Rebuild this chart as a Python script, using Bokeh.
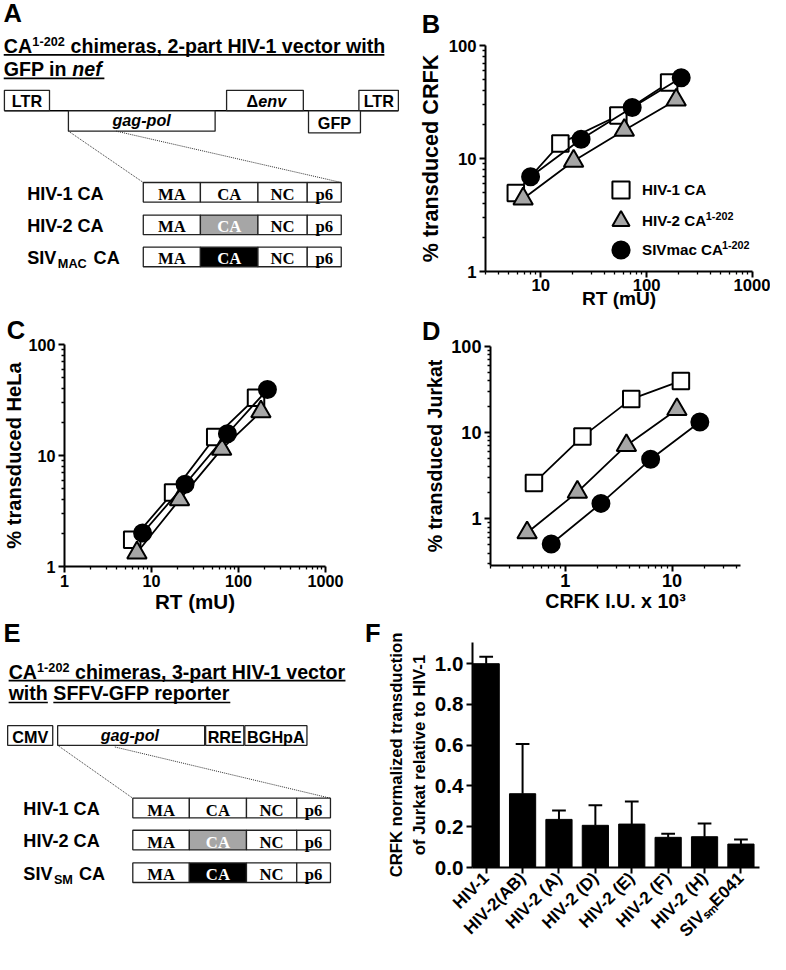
import numpy as np
from bokeh.plotting import figure
from bokeh.models import (Range1d, FixedTicker, PrintfTickFormatter, Legend, LegendItem,
                          Whisker, TeeHead, ColumnDataSource, Label, Title)
from bokeh.layouts import column, row
from bokeh.embed import file_html
from bokeh.resources import INLINE
from bokeh.core.properties import value

# ---------------------------------------------------------------- data
b_hiv1_rt = [5.8, 15.3, 54, 163]
b_hiv1_pct = [4.95, 13.6, 24, 47]
b_hiv2_rt = [6.8, 20.4, 61.5, 190]
b_hiv2_pct = [4.4, 9.5, 17.8, 33]
b_siv_rt = [8.0, 24, 73, 212]
b_siv_pct = [6.9, 14.8, 28.3, 51.8]
c_hiv1_rt = [6.0, 17.7, 54, 159]
c_hiv1_pct = [1.74, 4.65, 14.7, 33.2]
c_hiv2_rt = [6.8, 21, 64, 181]
c_hiv2_pct = [1.33, 4.0, 11.4, 24.8]
c_siv_rt = [7.9, 24.3, 74.6, 215]
c_siv_pct = [2.0, 5.5, 15.7, 39.3]
d_hiv1_iu = [0.51, 1.45, 4.15, 12.1]
d_hiv1_pct = [2.6, 9.0, 24.5, 39.8]
d_hiv2_iu = [0.44, 1.3, 3.74, 11.1]
d_hiv2_pct = [0.69, 2.04, 7.1, 18.6]
d_siv_iu = [0.74, 2.16, 6.3, 18.2]
d_siv_pct = [0.51, 1.51, 4.9, 13.3]
f_categories = ["HIV-1", "HIV-2(AB)", "HIV-2 (A)", "HIV-2 (D)", "HIV-2 (E)",
                "HIV-2 (F)", "HIV-2 (H)", "SIV\u209b\u2098E041"]
f_means = [1.0, 0.362, 0.236, 0.207, 0.213, 0.148, 0.151, 0.115]
f_sd = [0.034, 0.244, 0.044, 0.098, 0.111, 0.017, 0.065, 0.022]
series_names = ["HIV-1 CA", "HIV-2 CA", "SIVmac CA"]
series_sup = ["", "1-202", "1-202"]

# ---------------------------------------------------------------- layout
S = 0.98
SANS = "Liberation Sans"
SERIF = "Liberation Serif"

H1, H2, H3 = 312, 305, 333
WA, WB = 402, 368
WC, WD = 392, 378
WE, WF = 382, 388
Y1 = 0.0
Y2 = H1 / S
Y3 = (H1 + H2) / S


def fs(v):
    return f"{v * S:.1f}px"


def diagram(x0, y0, W, H):
    p = figure(width=W, height=H, output_backend="svg", toolbar_location=None,
               x_range=Range1d(x0, x0 + W / S), y_range=Range1d(-(y0 + H / S), -y0),
               min_border=0, outline_line_color=None, x_axis_type=None, y_axis_type=None)
    p.min_border_left = p.min_border_right = p.min_border_top = p.min_border_bottom = 0
    p.background_fill_color = "white"
    p.border_fill_color = "white"
    return p


def txt(p, x, y, s, size, style="bold", font=SANS, align="left", color="black"):
    # y is the reference baseline; the text is placed by its vertical middle
    ym = y - 0.35 * size
    p.text(x=[x], y=[-ym], text=[s], text_font=value(font), text_font_size=fs(size),
           text_font_style=style, text_align=align, text_baseline="middle", text_color=color)


def box(p, l, r, t, b, fill="white", line="#222222", lw=1.3):
    p.quad(left=[l], right=[r], top=[-t], bottom=[-b], fill_color=fill, line_color=line, line_width=lw)


def seg(p, x0, y0, x1, y1, lw=1.6, color="black", dash="solid"):
    p.segment(x0=[x0], y0=[-y0], x1=[x1], y1=[-y1], line_color=color, line_width=lw, line_dash=dash)


def uline(p, x0, x1, y):
    seg(p, x0, y, x1, y, lw=1.6)


def dotted(p, x0, y0, x1, y1):
    seg(p, x0, y0, x1, y1, lw=1, color="#333333", dash="1 1")


def gag_row(p, xs, yt, yb, ca_fill, ca_text):
    labels = ["MA", "CA", "NC", "p6"]
    fills = ["white", ca_fill, "white", "white"]
    colors = ["black", ca_text, "black", "black"]
    for i in range(4):
        box(p, xs[i], xs[i + 1], yt, yb, fill=fills[i])
        txt(p, (xs[i] + xs[i + 1]) / 2, yb - 2, labels[i], 17, font=SERIF, align="center",
            color=colors[i])


# ---------------------------------------------------------------- panel A
pA = diagram(0, Y1, WA, H1)
txt(pA, 3, 21.7, "A", 26)
txt(pA, 3.3, 53, "CA", 20)
txt(pA, 32.5, 46, "1-202", 13)
txt(pA, 71.5, 53, "chimeras, 2-part HIV-1 vector with", 20)
uline(pA, 3.3, 391.7, 55.5)
txt(pA, 3.3, 77, "GFP in ", 20)
txt(pA, 73.3, 77, "nef", 20, style="bold italic")
uline(pA, 3.3, 106, 79.5)
seg(pA, 4, 112.5, 406, 112.5)
box(pA, 4, 50, 91.7, 112.3)
txt(pA, 27, 108.3, "LTR", 16.5, align="center")
box(pA, 230.7, 309, 91.7, 112.3)
txt(pA, 263, 108.3, "\u0394", 16.5, align="right")
txt(pA, 263, 108.3, "env", 16.5, style="bold italic")
box(pA, 365.7, 406, 91.7, 112.3)
txt(pA, 386, 108.3, "LTR", 16.5, align="center")
box(pA, 69.3, 219, 112.7, 133.3)
txt(pA, 144, 127.5, "gag-pol", 16.5, style="bold italic", align="center")
box(pA, 314.3, 367.3, 112.7, 135)
txt(pA, 340.8, 131, "GFP", 16.5, align="center")
dotted(pA, 69.3, 133.3, 145.7, 185.7)
dotted(pA, 118, 133.3, 347.7, 185.7)
xsA = [145.7, 204, 262.7, 313, 347.7]
gag_row(pA, xsA, 185.7, 205.7, "white", "black")
gag_row(pA, xsA, 219, 239, "#a6a6a6", "white")
gag_row(pA, xsA, 251.7, 271.7, "black", "white")
txt(pA, 27.3, 204, "HIV-1 CA", 18.5)
txt(pA, 27.3, 236.7, "HIV-2 CA", 18.5)
txt(pA, 27.3, 269.3, "SIV", 18.5)
txt(pA, 58.5, 273.5, "MAC", 13)
txt(pA, 95, 269.3, "CA", 18.5)


# ---------------------------------------------------------------- plot helpers
def make_plot(ox, oy, W, H, frame, xr, yr, xlog, ylog):
    fx0, fy0, fx1, fy1 = frame
    left = round((fx0 - ox) * S)
    top = round((fy0 - oy) * S)
    fw = round((fx1 - fx0) * S)
    fh = round((fy1 - fy0) * S)
    right = W - left - fw
    bottom = H - top - fh
    p = figure(width=W, height=H, output_backend="svg", toolbar_location=None,
               x_axis_type="log" if xlog else "linear", y_axis_type="log" if ylog else "linear",
               x_range=Range1d(*xr), y_range=Range1d(*yr),
               min_border_left=left, min_border_right=right, min_border_top=top,
               min_border_bottom=bottom, outline_line_color=None)
    p.grid.visible = False
    p.background_fill_color = "white"
    p.border_fill_color = "white"
    return p, (frame, xr, yr, xlog, ylog)


def style_axis(ax, tick_font, label_font, tick_standoff, label_standoff):
    ax.axis_line_width = 2
    ax.axis_line_color = "black"
    ax.major_tick_line_width = 2
    ax.major_tick_line_color = "black"
    ax.major_tick_out = 6
    ax.major_tick_in = 0
    ax.minor_tick_line_width = 1.3
    ax.minor_tick_line_color = "black"
    ax.minor_tick_out = 3
    ax.minor_tick_in = 0
    ax.major_label_text_font = SANS
    ax.major_label_text_font_style = "bold"
    ax.major_label_text_font_size = fs(tick_font)
    ax.major_label_text_color = "black"
    ax.major_label_standoff = tick_standoff
    ax.axis_label_text_font = SANS
    ax.axis_label_text_font_style = "bold"
    ax.axis_label_text_font_size = fs(label_font)
    ax.axis_label_text_color = "black"
    ax.axis_label_standoff = label_standoff


def letter(p, text, offset, standoff):
    p.title = Title(text=text, align="left", offset=offset, standoff=standoff,
                    text_font=SANS, text_font_style="bold", text_font_size=fs(26),
                    text_color="black")


def ref2data(info, rx, ry):
    (fx0, fy0, fx1, fy1), (xa, xb), (ya, yb), xlog, ylog = info
    tx = (rx - fx0) / (fx1 - fx0)
    ty = (fy1 - ry) / (fy1 - fy0)
    if xlog:
        x = 10 ** (np.log10(xa) + tx * (np.log10(xb) - np.log10(xa)))
    else:
        x = xa + tx * (xb - xa)
    if ylog:
        y = 10 ** (np.log10(ya) + ty * (np.log10(yb) - np.log10(ya)))
    else:
        y = ya + ty * (yb - ya)
    return x, y


def draw_series(p, xs, ys, marker, fill, size):
    p.line(xs, ys, line_color="black", line_width=1.8)
    return p.scatter(xs, ys, marker=marker, size=size, fill_color=fill, line_color="black",
                     line_width=2)


def decade_minor(lo_exp, hi_exp, start=2):
    out = []
    for e in range(lo_exp, hi_exp):
        for m in range(start if e == lo_exp else 2, 10):
            out.append(m * 10.0 ** e)
    return out


SQ, TRI, CIR = 16.5, 19.5, 17

# ---------------------------------------------------------------- panel B
pB, infoB = make_plot(WA / S, Y1, WB, H1, (495, 46, 767, 277), (3, 1000), (1, 100), True, True)
style_axis(pB.xaxis[0], 17, 19.5, 1, -6)
style_axis(pB.yaxis[0], 17, 22, 3, 3)
pB.xaxis.axis_label = "RT (mU)"
pB.yaxis.axis_label = "% transduced CRFK"
pB.xaxis.ticker = FixedTicker(ticks=[10, 100, 1000], minor_ticks=decade_minor(0, 3, 3))
pB.yaxis.ticker = FixedTicker(ticks=[1, 10, 100], minor_ticks=decade_minor(0, 2))
pB.xaxis.formatter = PrintfTickFormatter(format="%g")
pB.yaxis.formatter = PrintfTickFormatter(format="%g")
rb = [draw_series(pB, b_hiv1_rt, b_hiv1_pct, "square", "white", SQ),
      draw_series(pB, b_hiv2_rt, b_hiv2_pct, "triangle", "#a6a6a6", TRI),
      draw_series(pB, b_siv_rt, b_siv_pct, "circle", "black", CIR)]
leg_centers = [194.3, 225.7, 255.0]
LEG_X = 633.3
LEG_FONT = 15.5
for i in range(3):
    bottom_off = (277 - leg_centers[i]) * S - 21.5
    lg = Legend(items=[LegendItem(label=series_names[i], renderers=[rb[i]])],
                location=(round((LEG_X - 495) * S - 21.5), round(bottom_off)),
                glyph_width=43, glyph_height=43, label_standoff=-3, padding=0, margin=0,
                border_line_color=None, background_fill_alpha=0, label_text_font=SANS,
                label_text_font_style="bold", label_text_font_size=fs(LEG_FONT),
                label_text_color="black")
    pB.add_layout(lg)
main_w = {"HIV-2 CA": 4.278, "SIVmac CA": 5.335}
for i in range(3):
    if not series_sup[i]:
        continue
    start_ref = LEG_X + (21.5 - 3) / S + main_w[series_names[i]] * LEG_FONT + 1
    sx, sy = ref2data(infoB, start_ref, leg_centers[i] - 5)
    pB.add_layout(Label(x=sx, y=sy, text=series_sup[i], text_font=SANS, text_font_style="bold",
                        text_font_size=fs(11), text_align="left", text_baseline="alphabetic",
                        text_color="black"))
letter(pB, "B", -63.7, 15)

# ---------------------------------------------------------------- panel C
pC, infoC = make_plot(0, Y2, WC, H2, (63, 350.7, 331, 577.3), (1, 1000), (1, 100), True, True)
style_axis(pC.xaxis[0], 16.5, 21, 2, 0)
style_axis(pC.yaxis[0], 16.5, 20.5, 3, 0)
pC.xaxis.axis_label = "RT (mU)"
pC.yaxis.axis_label = "% transduced HeLa"
pC.xaxis.ticker = FixedTicker(ticks=[1, 10, 100, 1000], minor_ticks=decade_minor(0, 3))
pC.yaxis.ticker = FixedTicker(ticks=[1, 10, 100], minor_ticks=decade_minor(0, 2))
pC.xaxis.formatter = PrintfTickFormatter(format="%g")
pC.yaxis.formatter = PrintfTickFormatter(format="%g")
draw_series(pC, c_hiv1_rt, c_hiv1_pct, "square", "white", SQ)
draw_series(pC, c_hiv2_rt, c_hiv2_pct, "triangle", "#a6a6a6", TRI)
draw_series(pC, c_siv_rt, c_siv_pct, "circle", "black", CIR)
letter(pC, "C", -57.8, 1)

# ---------------------------------------------------------------- panel D
pD, infoD = make_plot(WC / S, Y2, WD, H2, (500, 353, 755, 576.7), (0.2, 43.7), (0.287, 100),
                      True, True)
style_axis(pD.xaxis[0], 18.5, 20, 2, 0)
style_axis(pD.yaxis[0], 18.5, 20, 3, 2)
pD.xaxis.axis_label = "CRFK I.U. x 10\u00b3"
pD.yaxis.axis_label = "% transduced Jurkat"
pD.xaxis.ticker = FixedTicker(ticks=[1, 10],
                              minor_ticks=[0.2, 0.3, 0.4, 0.5, 0.6, 0.7, 0.8, 0.9,
                                           2, 3, 4, 5, 6, 7, 8, 9, 20, 30, 40])
pD.yaxis.ticker = FixedTicker(ticks=[1, 10, 100],
                              minor_ticks=[0.3, 0.4, 0.5, 0.6, 0.7, 0.8, 0.9] + decade_minor(0, 2))
pD.xaxis.formatter = PrintfTickFormatter(format="%g")
pD.yaxis.formatter = PrintfTickFormatter(format="%g")
draw_series(pD, d_hiv1_iu, d_hiv1_pct, "square", "white", SQ)
draw_series(pD, d_hiv2_iu, d_hiv2_pct, "triangle", "#a6a6a6", TRI)
draw_series(pD, d_siv_iu, d_siv_pct, "circle", "black", CIR)
letter(pD, "D", -68.6, 3)

# ---------------------------------------------------------------- panel E (+ letter F)
pE = diagram(0, Y3, WE, H3)
txt(pE, 3, 655, "E", 26)
txt(pE, 372, 655, "F", 26)
txt(pE, 8.3, 691.7, "CA", 20)
txt(pE, 37.3, 684.7, "1-202", 13)
txt(pE, 76, 691.7, "chimeras, 3-part HIV-1 vector", 20)
uline(pE, 8.3, 352, 694)
txt(pE, 8.3, 713.3, "with", 20)
uline(pE, 8.3, 48.3, 716.3)
txt(pE, 53.9, 713.3, "SFFV-GFP reporter", 20)
uline(pE, 53.9, 234.5, 716.3)
box(pE, 7.3, 53.3, 740, 760)
txt(pE, 30.3, 757, "CMV", 16.5, align="center")
box(pE, 58.3, 208.3, 740, 760)
txt(pE, 132, 755.5, "gag-pol", 16.5, style="bold italic", align="center")
box(pE, 209.3, 248.3, 740, 760)
txt(pE, 228.8, 757, "RRE", 16.5, align="center")
box(pE, 249.3, 312.7, 740, 760)
txt(pE, 281, 757, "BGHpA", 16.5, align="center")
dotted(pE, 58.3, 760, 135, 814)
dotted(pE, 116.7, 761.7, 336.7, 814)
xsE = [135, 192.7, 251, 302.3, 336.7]
gag_row(pE, xsE, 814, 834, "white", "black")
gag_row(pE, xsE, 846.7, 866.7, "#a6a6a6", "white")
gag_row(pE, xsE, 880, 900, "black", "white")
txt(pE, 23.3, 831.7, "HIV-1 CA", 18.5)
txt(pE, 23.3, 864, "HIV-2 CA", 18.5)
txt(pE, 23.3, 897.3, "SIV", 18.5)
txt(pE, 54.5, 901.5, "SM", 13)
txt(pE, 80, 897.3, "CA", 18.5)

# ---------------------------------------------------------------- panel F
f_x = list(range(len(f_categories)))
pF, infoF = make_plot(WE / S, Y3, WF, H3, (481.7, 655, 775, 891.7), (-0.376, 7.51), (0, 1.104),
                      False, False)
style_axis(pF.xaxis[0], 17.5, 17, 2, 0)
style_axis(pF.yaxis[0], 21, 17, 3, 3)
pF.yaxis.axis_label = "CRFK normalized transduction\nof Jurkat relative to HIV-1"
pF.yaxis.ticker = FixedTicker(ticks=[0, 0.2, 0.4, 0.6, 0.8, 1.0], minor_ticks=[])
pF.yaxis.formatter = PrintfTickFormatter(format="%.1f")
pF.xaxis.ticker = FixedTicker(ticks=f_x, minor_ticks=[])
pF.xaxis.major_label_overrides = {i: c for i, c in zip(f_x, f_categories)}
pF.xaxis.major_label_orientation = np.pi / 4
pF.vbar(x=f_x, top=f_means, width=0.72, bottom=0, fill_color="black", line_color="black",
        line_width=1)
fsrc = ColumnDataSource(dict(x=f_x, lower=f_means,
                             upper=[m + s for m, s in zip(f_means, f_sd)]))
pF.add_layout(Whisker(source=fsrc, base="x", lower="lower", upper="upper", dimension="height",
                      line_color="black", line_width=2, lower_head=None,
                      upper_head=TeeHead(size=14 * S, line_width=2, line_color="black")))

layout = column(row(column(pA), column(pB)), row(column(pC), column(pD)),
                row(column(pE), column(pF)))
open("out.html", "w").write(file_html(layout, INLINE, "Figure"))
